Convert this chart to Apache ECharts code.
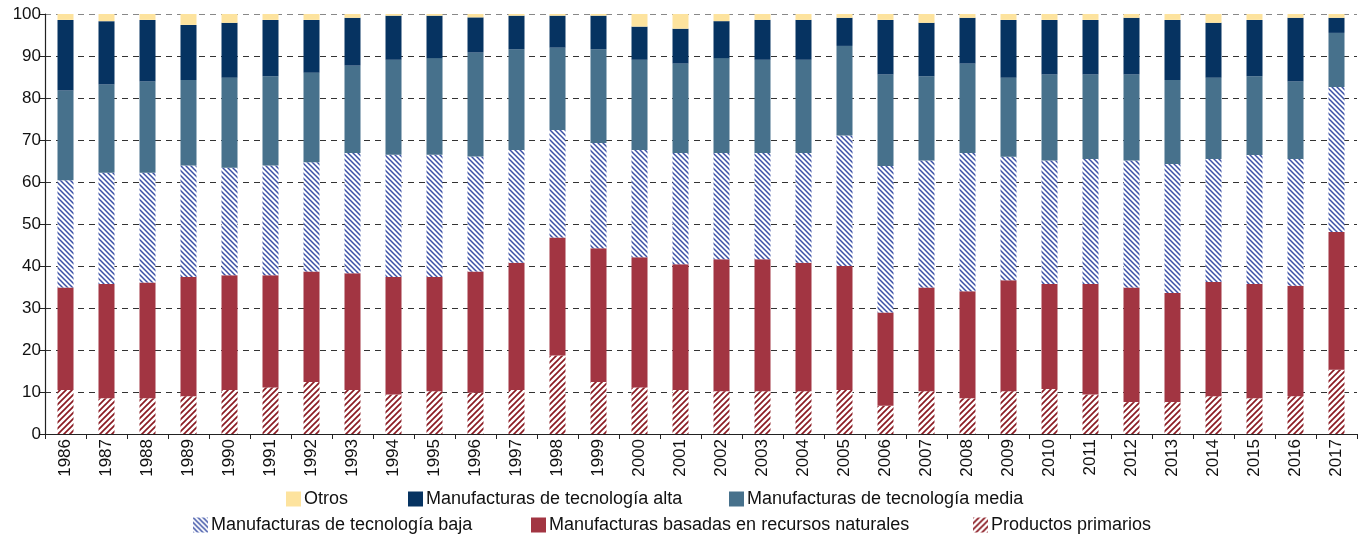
<!DOCTYPE html>
<html>
<head>
<meta charset="utf-8">
<script src="https://cdn.jsdelivr.net/npm/echarts@6/dist/echarts.min.js"></script>
<style>
  html, body { margin: 0; padding: 0; background: #fff; }
  #chart { width: 1363px; height: 535px; }
</style>
</head>
<body>
<div id="chart"></div>
<script>
const years = [
  "1986", "1987", "1988", "1989", "1990", "1991", "1992", "1993", "1994", "1995", "1996",
  "1997", "1998", "1999", "2000", "2001", "2002", "2003", "2004", "2005", "2006", "2007",
  "2008", "2009", "2010", "2011", "2012", "2013", "2014", "2015", "2016", "2017",
];

// shares (%) per category, bottom to top of each stack
const primarios = [10.5, 8.5, 8.5, 9.0, 10.5, 11.1, 12.4, 10.5, 9.4, 10.2, 9.8, 10.5, 18.7, 12.4, 11.1, 10.5, 10.2, 10.2, 10.2, 10.5, 6.7, 10.2, 8.5, 10.2, 10.7, 9.4, 7.6, 7.6, 9.0, 8.5, 9.0, 15.3];
const recursosNaturales = [24.4, 27.2, 27.6, 28.4, 27.3, 26.7, 26.3, 27.8, 28.0, 27.2, 28.9, 30.3, 28.1, 31.8, 31.0, 29.9, 31.4, 31.4, 30.6, 29.5, 22.2, 24.7, 25.5, 26.4, 25.0, 26.3, 27.3, 26.0, 27.2, 27.2, 26.3, 32.8];
const tecBaja = [25.5, 26.5, 26.1, 26.5, 25.6, 26.1, 26.0, 28.6, 29.1, 29.1, 27.4, 26.8, 25.6, 25.1, 25.5, 26.5, 25.3, 25.3, 26.1, 31.1, 34.9, 30.2, 32.9, 29.4, 29.4, 29.8, 30.2, 30.7, 29.3, 30.7, 30.2, 34.5];
const tecMedia = [21.4, 21.0, 21.7, 20.4, 21.4, 21.3, 21.3, 20.8, 22.6, 23.0, 24.7, 24.0, 19.6, 22.3, 21.5, 21.3, 22.6, 22.2, 22.2, 21.3, 21.8, 20.1, 21.3, 18.8, 20.5, 20.1, 20.5, 20.0, 19.3, 18.8, 18.4, 12.9];
const tecAlta = [16.8, 15.1, 14.7, 13.1, 13.1, 13.4, 12.6, 11.4, 10.5, 10.1, 8.4, 8.0, 7.6, 8.0, 7.9, 8.3, 8.8, 9.5, 9.5, 6.7, 13.0, 12.7, 10.9, 13.8, 13.0, 13.0, 13.5, 14.3, 13.1, 13.4, 15.2, 3.6];
const otros = [1.4, 1.7, 1.4, 2.6, 2.1, 1.4, 1.4, 0.9, 0.4, 0.4, 0.8, 0.4, 0.4, 0.4, 3.0, 3.5, 1.7, 1.4, 1.4, 0.9, 1.4, 2.1, 0.9, 1.4, 1.4, 1.4, 0.9, 1.4, 2.1, 1.4, 0.9, 0.9];

// diagonal hatch fill
function hatch(color, size, width, forward) {
  const c = document.createElement("canvas");
  c.width = size;
  c.height = size;
  const ctx = c.getContext("2d");
  ctx.fillStyle = "#fff";
  ctx.fillRect(0, 0, size, size);
  ctx.strokeStyle = color;
  ctx.lineWidth = width;
  ctx.beginPath();
  if (forward) {
    ctx.moveTo(-1, size + 1); ctx.lineTo(size + 1, -1);
    ctx.moveTo(-1, 1); ctx.lineTo(1, -1);
    ctx.moveTo(size - 1, size + 1); ctx.lineTo(size + 1, size - 1);
  } else {
    ctx.moveTo(-1, -1); ctx.lineTo(size + 1, size + 1);
    ctx.moveTo(size - 1, -1); ctx.lineTo(size + 1, 1);
    ctx.moveTo(-1, size - 1); ctx.lineTo(1, size + 1);
  }
  ctx.stroke();
  return { image: c, repeat: "repeat" };
}

const chart = echarts.init(document.getElementById("chart"), null, { renderer: "canvas" });

const bar = (name, data, color) => ({
  name,
  type: "bar",
  stack: "total",
  barWidth: 16,
  data,
  itemStyle: { color },
  emphasis: { disabled: true },
});

const legendItem = (name, left, top) => ({
  data: [name],
  left,
  top,
  padding: 0,
  itemWidth: 15,
  itemHeight: 15,
  icon: "rect",
  selectedMode: false,
  textStyle: { fontFamily: "Liberation Sans", fontSize: 18, color: "#111", padding: [0, 0, 0, -2] },
});

// gridlines dark, the top one (100) lighter grey
const gridColors = ["#333", "#333", "#333", "#333", "#333", "#333", "#333", "#333", "#333", "#333", "#888"];

chart.setOption({
  animation: false,
  textStyle: { fontFamily: "Liberation Sans" },
  grid: { left: 45, right: 6, top: 14, bottom: 101 },
  legend: [
    legendItem("Otros", 286, 490),
    legendItem("Manufacturas de tecnología alta", 408, 490),
    legendItem("Manufacturas de tecnología media", 729, 490),
    legendItem("Manufacturas de tecnología baja", 193, 516),
    legendItem("Manufacturas basadas en recursos naturales", 531, 516),
    legendItem("Productos primarios", 973, 516),
  ],
  xAxis: {
    type: "category",
    data: years,
    axisLine: { lineStyle: { color: "#222", width: 1.2 } },
    axisTick: { show: true, length: 5, lineStyle: { color: "#222" } },
    axisLabel: { rotate: 90, fontSize: 17, color: "#111", margin: 5 },
  },
  yAxis: {
    type: "value",
    min: 0,
    max: 100,
    interval: 10,
    axisLine: { show: true, lineStyle: { color: "#222", width: 1.2 } },
    axisTick: { show: true, length: 5, lineStyle: { color: "#222" } },
    axisLabel: { fontSize: 17, color: "#111", margin: 4 },
    splitLine: {
      lineStyle: { color: gridColors, type: [6, 5], width: 1 },
    },
  },
  series: [
    bar("Productos primarios", primarios, hatch("#8b1c24", 6, 1.7, true)),
    bar("Manufacturas basadas en recursos naturales", recursosNaturales, "#a23542"),
    bar("Manufacturas de tecnología baja", tecBaja, hatch("#3c51a6", 5, 1.5, false)),
    bar("Manufacturas de tecnología media", tecMedia, "#47718c"),
    bar("Manufacturas de tecnología alta", tecAlta, "#063361"),
    bar("Otros", otros, "#fde39e"),
  ],
});
</script>
</body>
</html>
